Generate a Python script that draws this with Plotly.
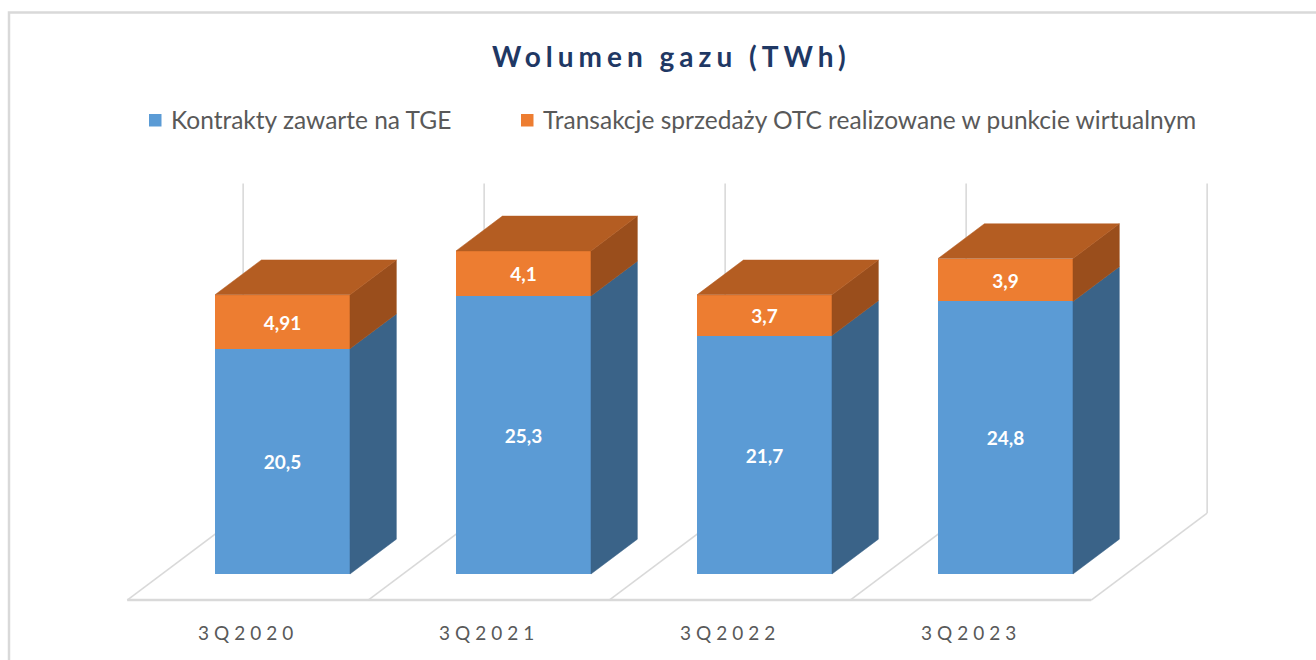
import plotly.graph_objects as go

# ---------------- data ----------------
categories = ["3Q2020", "3Q2021", "3Q2022", "3Q2023"]
tge_values = [20.5, 25.3, 21.7, 24.8]
otc_values = [4.91, 4.1, 3.7, 3.9]
series_names = ["Kontrakty zawarte na TGE",
                "Transakcje sprzedaży OTC realizowane w punkcie wirtualnym"]
chart_title = "Wolumen gazu (TWh)"
value_axis_max = 30

# ---------------- style ----------------
FONT = "Lato, 'Open Sans', sans-serif"
BLUE, BLUE_SIDE = "#5b9bd5", "#3a6388"
ORANGE, ORANGE_TOP, ORANGE_SIDE = "#ed7d31", "#b45d22", "#9a4e1c"
GRID = "#d9d9d9"
TEXT_GRAY = "#595959"
TITLE_COLOR = "#1f3864"

BAR_W = 0.56          # bar width in category units
DEPTH_X = 0.481       # full floor depth, horizontal component (category units)
DEPTH_Y = 7.92        # full floor depth, vertical component (value units)
Z_FRONT, Z_BACK = 0.30, 0.70   # bar position inside the floor depth

X_RANGE = [-1.1722, 4.2884]
Y_RANGE = [-7.825, 52.23]


def label(v):
    return str(v).replace(".", ",")


def spaced(txt, px):
    return f'<span style="letter-spacing:{px}px">{txt}</span>'


fig = go.Figure()

n = len(categories)
xs = list(range(n))

# front faces
fig.add_trace(go.Bar(
    x=xs, y=tge_values, width=BAR_W, name=series_names[0],
    marker=dict(color=BLUE, line=dict(width=0)),
    text=[label(v) for v in tge_values], texttemplate="<b>%{text}</b>",
    textposition="inside", insidetextanchor="middle", textangle=0,
    textfont=dict(family=FONT, size=19, color="white"),
    showlegend=False, hoverinfo="skip"))
fig.add_trace(go.Bar(
    x=xs, y=otc_values, width=BAR_W, name=series_names[1],
    marker=dict(color=ORANGE, line=dict(width=0)),
    text=[label(v) for v in otc_values], texttemplate="<b>%{text}</b>",
    textposition="inside", insidetextanchor="middle", textangle=0,
    textfont=dict(family=FONT, size=19, color="white"),
    showlegend=False, hoverinfo="skip"))

# 3D side / top faces computed from data
dx = (Z_BACK - Z_FRONT) * DEPTH_X
dy = (Z_BACK - Z_FRONT) * DEPTH_Y


def poly(px, py, color):
    fig.add_trace(go.Scatter(
        x=px, y=py, mode="lines", fill="toself", fillcolor=color,
        line=dict(width=0.5, color=color), showlegend=False, hoverinfo="skip"))


for i in range(n):
    xl, xr = xs[i] - BAR_W / 2, xs[i] + BAR_W / 2
    b, t = tge_values[i], tge_values[i] + otc_values[i]
    # blue side
    poly([xr, xr + dx, xr + dx, xr, xr], [0, dy, b + dy, b, 0], BLUE_SIDE)
    # orange side
    poly([xr, xr + dx, xr + dx, xr, xr], [b, b + dy, t + dy, t, b], ORANGE_SIDE)
    # orange top
    poly([xl, xr, xr + dx, xl + dx, xl], [t, t, t + dy, t + dy, t], ORANGE_TOP)

# floor and back wall lines (below traces)
shapes = []
fx0 = -0.5 - Z_FRONT * DEPTH_X
fy0 = -Z_FRONT * DEPTH_Y
shapes.append(dict(type="line", xref="x", yref="y", layer="below",
                   x0=fx0, x1=fx0 + n, y0=fy0, y1=fy0,
                   line=dict(color=GRID, width=2.5)))
for k in range(n + 1):
    x_front = k - 0.5 - Z_FRONT * DEPTH_X
    x_back = x_front + DEPTH_X
    shapes.append(dict(type="line", xref="x", yref="y", layer="below",
                       x0=x_front, x1=x_back, y0=fy0, y1=fy0 + DEPTH_Y,
                       line=dict(color=GRID, width=1.6)))
    shapes.append(dict(type="line", xref="x", yref="y", layer="below",
                       x0=x_back, x1=x_back, y0=fy0 + DEPTH_Y,
                       y1=fy0 + DEPTH_Y + value_axis_max,
                       line=dict(color=GRID, width=1.6)))

W, H = 1316, 660
# outer frame
shapes.append(dict(type="rect", xref="paper", yref="paper", layer="below",
                   x0=9 / W, x1=1.02, y0=-0.02, y1=1 - 12.5 / H,
                   line=dict(color=GRID, width=2.5)))

# legend symbols
for (x0, col) in [(149, BLUE), (521, ORANGE)]:
    shapes.append(dict(type="rect", xref="paper", yref="paper",
                       x0=x0 / W, x1=(x0 + 12.5) / W,
                       y0=1 - 126.5 / H, y1=1 - 114 / H,
                       fillcolor=col, line=dict(width=0)))

annotations = []
annotations.append(dict(
    xref="paper", yref="paper", x=671 / W, y=1 - 56 / H,
    xanchor="center", yanchor="middle", showarrow=False,
    text="<b>" + spaced(chart_title, 5) + "</b>",
    font=dict(family=FONT, size=28, color=TITLE_COLOR)))
for name, x0 in zip(series_names, [169, 541]):
    annotations.append(dict(
        xref="paper", yref="paper", x=x0 / W, y=1 - 119 / H,
        xanchor="left", yanchor="middle", showarrow=False, text=name,
        font=dict(family=FONT, size=24.5, color=TEXT_GRAY)))
for i, c in enumerate(categories):
    annotations.append(dict(
        xref="x", yref="y", x=xs[i] - Z_FRONT * DEPTH_X, y=fy0,
        yshift=-32, xanchor="center", yanchor="middle", showarrow=False,
        text=spaced(c, 5), font=dict(family=FONT, size=19, color=TEXT_GRAY)))

fig.update_layout(
    width=W, height=H, autosize=False,
    margin=dict(l=0, r=0, t=0, b=0),
    paper_bgcolor="white", plot_bgcolor="white",
    barmode="stack", bargap=0,
    xaxis=dict(range=X_RANGE, visible=False, fixedrange=True),
    yaxis=dict(range=Y_RANGE, visible=False, fixedrange=True),
    shapes=shapes, annotations=annotations,
    showlegend=False,
)

fig.write_html("out.html", config={"displayModeBar": False},
               post_script="document.body.style.margin='0';document.body.style.overflow='hidden';")
